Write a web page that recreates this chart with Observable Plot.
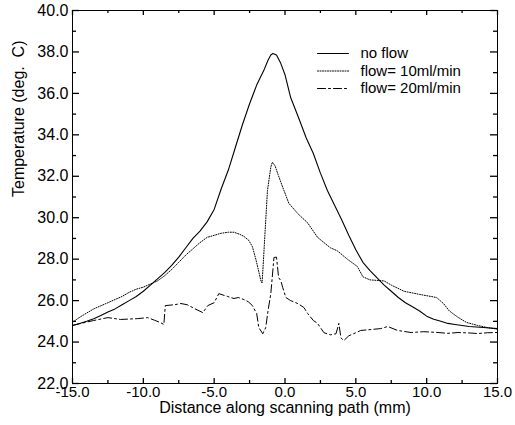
<!DOCTYPE html>
<html><head><meta charset="utf-8">
<script src="https://cdn.jsdelivr.net/npm/d3@7"></script>
<script src="https://cdn.jsdelivr.net/npm/@observablehq/plot@0.6"></script>
<style>body{margin:0;background:#fff}</style>
</head><body><div id="chart"></div>
<script>
// ---- data ----
const seriesNames = ["no flow", "flow= 10ml/min", "flow= 20ml/min"];

const xNoFlow = [-15,-14.5,-14,-13.5,-13,-12.5,-12,-11.5,-11,-10.5,-10,-9.5,-9,-8.5,-8,-7.5,-7,-6.5,-6,-5.5,-5,-4.5,-4,-3.5,-3,-2.5,-2,-1.5,-1.2,-1,-0.85,-0.6,-0.3,0,0.4,1,1.5,2,2.5,3,3.5,4,4.5,5,5.5,6,6.5,7,7.5,8,8.5,9,9.5,10,10.5,11,11.5,12,12.5,13,14,15];
const tNoFlow = [24.8,24.9,25.0,25.12,25.28,25.45,25.6,25.8,26.0,26.2,26.45,26.75,27.05,27.35,27.7,28.1,28.55,29.0,29.35,29.8,30.4,31.4,32.3,33.4,34.5,35.5,36.4,37.1,37.6,37.85,37.93,37.85,37.45,36.9,35.8,34.75,33.85,33.1,32.15,31.3,30.6,29.9,29.15,28.45,27.85,27.45,27.1,26.75,26.45,26.15,25.9,25.7,25.5,25.25,25.1,25.0,24.9,24.85,24.8,24.75,24.7,24.65];

const x10 = [-15,-14.6,-14,-13.5,-13,-12.5,-12,-11.5,-11,-10.5,-10,-9.5,-9,-8.5,-8,-7.5,-7,-6.5,-6,-5.5,-5,-4.5,-4,-3.6,-3.2,-2.9,-2.55,-2.3,-2.06,-1.85,-1.7,-1.62,-1.55,-1.4,-1.24,-1.0,-0.89,-0.7,-0.5,-0.15,0.27,0.9,1.6,2.3,3.2,3.7,4.4,5.1,5.5,6.0,7.0,7.5,8.4,9.5,10.7,11.2,11.6,12.2,12.8,13.6,14.3,15];
const t10 = [24.95,25.15,25.4,25.6,25.75,25.9,26.05,26.2,26.4,26.55,26.65,26.8,26.95,27.2,27.5,27.85,28.2,28.5,28.8,29.05,29.15,29.25,29.3,29.3,29.2,29.1,28.9,28.6,28.0,27.4,26.95,26.85,27.6,29.4,31.3,32.45,32.68,32.5,32.1,31.45,30.7,30.2,29.75,29.05,28.55,28.4,28.0,27.65,27.15,27.0,26.95,26.75,26.45,26.3,26.15,25.85,25.5,25.2,24.95,24.8,24.7,24.62];

const x20 = [-15,-14.4,-13.5,-12.5,-11.6,-10.4,-9.7,-9.2,-8.8,-8.55,-8.45,-7.8,-7.35,-6.9,-6.4,-5.8,-5.45,-5.0,-4.67,-4.3,-4.05,-3.6,-3.3,-2.9,-2.6,-2.3,-2.0,-1.85,-1.57,-1.36,-1.2,-1.0,-0.78,-0.6,-0.45,-0.3,-0.16,0.06,0.4,0.9,1.33,1.6,2.0,2.3,2.75,3.2,3.6,3.8,3.95,4.15,4.5,5.0,5.35,6.0,6.76,7.25,7.95,8.9,9.8,10.8,11.5,12.2,13.0,13.6,14.3,15];
const t20 = [24.8,24.9,25.04,25.18,25.09,25.13,25.18,25.05,24.94,24.85,25.76,25.8,25.86,25.8,25.62,25.42,25.76,25.9,26.34,26.25,26.2,26.1,26.15,26.05,25.95,25.76,25.38,24.7,24.4,24.7,25.5,26.34,28.08,28.1,27.11,26.97,26.63,26.15,26.0,25.86,25.67,25.38,25.04,24.9,24.45,24.35,24.4,24.9,24.2,24.07,24.3,24.45,24.56,24.6,24.65,24.75,24.56,24.46,24.5,24.46,24.42,24.46,24.44,24.41,24.45,24.46];

const xMajor = [-15, -10, -5, 0, 5, 10, 15];
const xMinor = [-12.5, -7.5, -2.5, 2.5, 7.5, 12.5];
const yMajor = [22, 24, 26, 28, 30, 32, 34, 36, 38, 40];
const yMinor = [23, 25, 27, 29, 31, 33, 35, 37, 39];

const xLabel = "Distance along scanning path (mm)";
const yLabel = "Temperature (deg.\u00a0\u00a0C)";

// ---- layout & styles ----
const W = 515, H = 425, mL = 72, mR = 18, mT = 10, mB = 42;
const innerW = W - mL - mR, innerH = H - mT - mB;
const dashes = [null, "1,1.5", "8,3,2,3"];
const widths = [1.1, 1, 1];
const seriesX = [xNoFlow, x10, x20];
const seriesT = [tNoFlow, t10, t20];

const lineShape = {draw(context, l) { context.moveTo(0, 0); context.lineTo(0, -l); }};

const marks = [];
seriesNames.forEach((name, i) => {
  marks.push(Plot.line(seriesT[i], {x: seriesX[i], y: seriesT[i], stroke: "black", strokeWidth: widths[i], strokeDasharray: dashes[i]}));
});
marks.push(Plot.frame({stroke: "black", strokeWidth: 1}));

// inward ticks on all four sides (tick marks inset to a short length)
for (const [ticks, size] of [[xMajor, 5], [xMinor, 3]]) {
  marks.push(Plot.tickX(ticks, {x: d => d, stroke: "black", strokeWidth: 1.3, insetTop: innerH - size}));
  marks.push(Plot.tickX(ticks, {x: d => d, stroke: "black", strokeWidth: 1.3, insetBottom: innerH - size}));
}
for (const [ticks, size] of [[yMajor, 7], [yMinor, 4]]) {
  marks.push(Plot.tickY(ticks, {y: d => d, stroke: "black", strokeWidth: 1.3, insetRight: innerW - size}));
  marks.push(Plot.tickY(ticks, {y: d => d, stroke: "black", strokeWidth: 1.3, insetLeft: innerW - size}));
}
// tick labels
marks.push(Plot.axisX({anchor: "bottom", ticks: xMajor, tickSize: 0, tickPadding: 3, tickFormat: d => d.toFixed(1), label: null, fontSize: 15}));
marks.push(Plot.axisY({anchor: "left", ticks: yMajor, tickSize: 0, tickPadding: 4, tickFormat: d => d.toFixed(1), label: null, fontSize: 16}));
// axis titles
marks.push(Plot.text([xLabel], {frameAnchor: "bottom", dy: 24, text: d => d, fontSize: 16, lineAnchor: "middle"}));
marks.push(Plot.text([yLabel], {frameAnchor: "left", dx: -54, text: d => d, fontSize: 16, rotate: -90, lineAnchor: "middle"}));
// legend inside the plot
seriesNames.forEach((name, i) => {
  const dy = 43 + i * 17.5;
  marks.push(Plot.vector([name], {frameAnchor: "top-left", dx: 245, dy, length: 31, rotate: 90, anchor: "start", shape: lineShape, stroke: "black", strokeWidth: 1, strokeDasharray: dashes[i]}));
  marks.push(Plot.text([name], {frameAnchor: "top-left", dx: 288, dy, text: d => d, textAnchor: "start", fontSize: 15, lineAnchor: "middle"}));
});

const chart = Plot.plot({
  width: W, height: H,
  marginLeft: mL, marginRight: mR, marginTop: mT, marginBottom: mB,
  x: {domain: [-15, 15]},
  y: {domain: [22, 40]},
  style: {fontFamily: "'Liberation Sans', Arial, sans-serif", fontSize: "16px", background: "white", color: "black"},
  marks
});
document.getElementById("chart").append(chart);
</script>
</body></html>
